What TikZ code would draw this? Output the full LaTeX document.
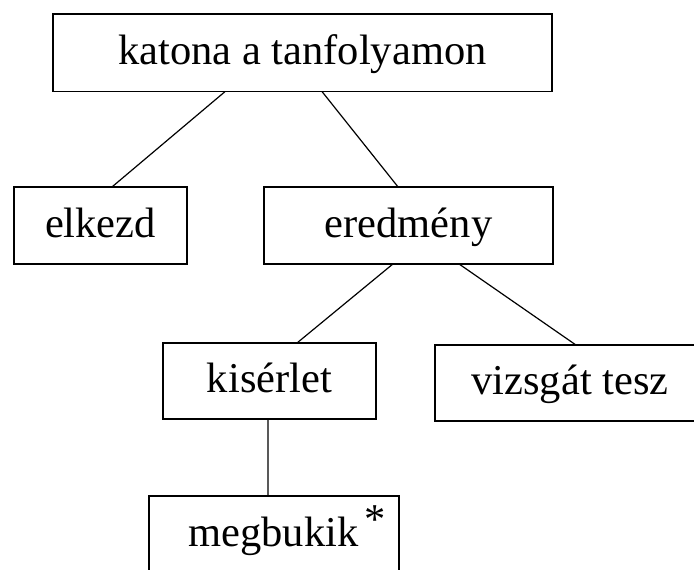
\documentclass[tikz,border=0pt]{standalone}
\usepackage{fontspec}
\setmainfont{Liberation Serif}
\usetikzlibrary{calc}
\begin{document}
\begin{tikzpicture}[x=1pt,y=-1pt,
  box/.style={draw, line width=1.3pt, inner sep=0pt, outer sep=0pt,
    font=\fontsize{42.5}{50}\selectfont, text height=34pt, text depth=11pt},
  link/.style={line width=1.2pt}]
\useasboundingbox (0,0) rectangle (694,570);
\clip (0,0) rectangle (694,570);
\node[box, minimum width=499pt, minimum height=77.5pt] (top) at (302.5,52.75) {katona a tanfolyamon};
\node[box, minimum width=173pt, minimum height=77pt] (elk) at (100.5,225.5) {elkezd};
\node[box, minimum width=289pt, minimum height=77pt] (ere) at (408.5,225.5) {eredmény};
\node[box, minimum width=213pt, minimum height=76pt] (kis) at (269.5,381) {kisérlet};
\node[box, minimum width=270pt, minimum height=76pt] (viz) at (570,383) {vizsgát tesz};
\node[box, minimum width=250pt, minimum height=77pt] (meg) at (274,534.5) {\hspace*{26pt}megbukik\hspace{6pt}\raisebox{13pt}{*}};
\draw[link] ($(top.south west)!0.345!(top.south east)$) -- ($(elk.north west)!0.566!(elk.north east)$);
\draw[link] ($(top.south west)!0.539!(top.south east)$) -- ($(ere.north west)!0.464!(ere.north east)$);
\draw[link] ($(ere.south west)!0.446!(ere.south east)$) -- ($(kis.north west)!0.629!(kis.north east)$);
\draw[link] ($(ere.south west)!0.675!(ere.south east)$) -- ($(viz.north west)!0.522!(viz.north east)$);
\draw[link] ($(kis.south west)!0.493!(kis.south east)$) -- ($(meg.north west)!0.476!(meg.north east)$);
\end{tikzpicture}
\end{document}
